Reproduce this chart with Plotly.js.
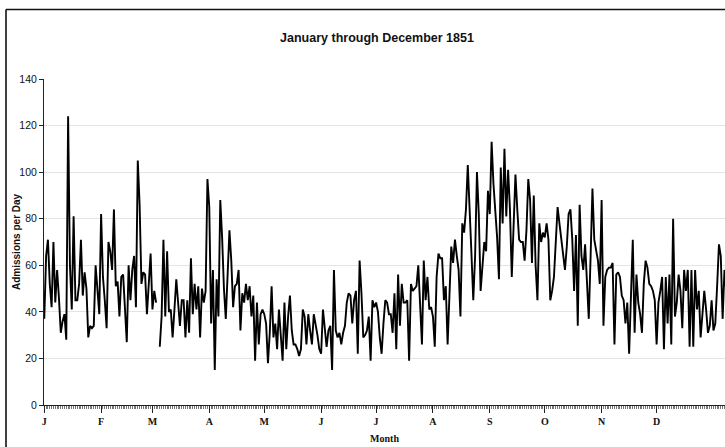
<!DOCTYPE html>
<html>
<head>
<meta charset="utf-8">
<script src="https://cdn.plot.ly/plotly-3.0.1.min.js"></script>
<style>
  html, body { margin: 0; padding: 0; background: #ffffff; }
  #chart { width: 725px; height: 447px; }
</style>
</head>
<body>
<div id="chart"></div>
<script>
// Daily admissions (null = missing day)
const jan = [37,64,71,52,42,70,44,58,46,31,36,39,28,124,60,41,81,45,45,52,71,47,57,50,29,34,33,34,60,50,39];
const feb = [82,55,45,33,70,66,58,84,51,53,38,55,56,40,27,60,45,58,64,42,105,86,52,57,56,39,55,65];
const mar = [41,49,44,null,25,38,71,38,66,40,41,29,41,54,44,34,45,45,29,45,31,63,39,52,41,51,29,50,44,49,97];
const apr = [85,35,58,15,54,38,88,72,50,37,60,75,62,42,51,52,58,32,48,44,52,45,51,38,47,19,44,26,39,41];
const may = [39,35,18,31,51,29,35,24,41,31,19,44,24,38,47,32,26,26,24,21,24,41,38,26,39,32,26,39,35,30,24];
const jun = [22,41,32,25,32,34,15,58,32,29,31,26,31,34,44,48,47,35,45,49,22,62,48,29,30,32,38,19,45,42];
const jul = [44,40,29,22,35,45,44,39,39,31,48,24,56,34,52,44,44,45,19,52,49,50,51,60,45,26,62,45,55,41,42];
const aug = [38,25,55,65,63,63,45,51,26,47,68,61,71,64,58,38,78,74,84,103,87,65,45,64,100,82,49,58,70,66,92];
const sep = [82,113,95,85,72,54,102,78,110,81,101,84,55,77,99,84,71,70,70,62,75,97,88,61,90,60,45,78,70,74];
const oct = [72,78,71,45,49,55,71,85,78,71,64,58,68,82,84,71,49,73,34,86,64,58,69,55,37,64,93,71,67,62,52];
const nov = [88,34,55,58,59,59,61,26,56,57,55,47,45,35,44,22,47,71,31,56,44,39,31,52,62,59,52,51,49,45];
const dec = [26,44,49,55,24,55,35,56,26,80,38,44,56,49,33,58,49,58,25,58,25,58,41,49,29,38,49,41,31,34,45,32,35,51,69,64,37,58,49];

const monthLabels = ['J','F','M','A','M','J','J','A','S','O','N','D'];
const monthStartDays = [1,32,60,91,121,152,182,213,244,274,305,335];

const admissions = [].concat(jan, feb, mar, apr, may, jun, jul, aug, sep, oct, nov, dec);
const days = admissions.map((v, i) => i + 1);

const trace = {
  x: days,
  y: admissions,
  type: 'scatter',
  mode: 'lines',
  line: { color: '#000000', width: 1.9 },
  connectgaps: false,
  hoverinfo: 'skip'
};

const layout = {
  width: 725,
  height: 447,
  margin: { l: 44, r: 0, t: 79, b: 42 },
  paper_bgcolor: '#ffffff',
  plot_bgcolor: '#ffffff',
  showlegend: false,
  title: {
    text: 'January through December 1851',
    font: { family: 'Liberation Sans, Arial, sans-serif', size: 12.5, color: '#111', weight: 'bold' },
    x: 0.52, xref: 'container', xanchor: 'center',
    y: 0.915, yref: 'container', yanchor: 'middle'
  },
  xaxis: {
    range: [0.85, 372.3],
    tickmode: 'array',
    tickvals: monthStartDays,
    ticktext: monthLabels,
    ticks: 'outside',
    ticklen: 7,
    tickwidth: 1,
    tickcolor: '#222',
    minor: { dtick: 1, tick0: 1, ticks: 'outside', ticklen: 3, tickwidth: 0.8, tickcolor: '#555', showgrid: false },
    showgrid: false,
    zeroline: false,
    showline: true,
    linecolor: '#222',
    linewidth: 1,
    tickfont: { family: 'Liberation Serif, Times New Roman, serif', size: 10, color: '#111', weight: 'bold' },
    title: {
      text: 'Month',
      font: { family: 'Liberation Serif, Times New Roman, serif', size: 10, color: '#111', weight: 'bold' },
      standoff: 8
    }
  },
  yaxis: {
    range: [0, 140],
    dtick: 20,
    tick0: 0,
    ticks: 'outside',
    ticklen: 4,
    tickwidth: 1,
    tickcolor: '#222',
    showgrid: true,
    gridcolor: '#e4e4e4',
    gridwidth: 1,
    zeroline: false,
    showline: true,
    linecolor: '#222',
    linewidth: 1,
    tickfont: { family: 'Liberation Sans, Arial, sans-serif', size: 10.5, color: '#111' }
  },
  annotations: [
    { text: 'Admissions per Day', xref: 'paper', yref: 'paper',
      x: (16 - 44) / 681, y: 0.5, xanchor: 'center', yanchor: 'middle',
      textangle: -90, showarrow: false,
      font: { family: 'Liberation Sans, Arial, sans-serif', size: 10, color: '#111', weight: 'bold' } }
  ],
  shapes: [
    { type: 'line', xref: 'paper', yref: 'paper', x0: -0.0558, x1: 1.01, y0: 1.2132, y1: 1.2132,
      line: { color: '#111', width: 1.6 } },
    { type: 'line', xref: 'paper', yref: 'paper', x0: -0.0558, x1: -0.0558, y0: 1.2132, y1: -0.15,
      line: { color: '#111', width: 1.6 } }
  ]
};

Plotly.newPlot('chart', [trace], layout, { displayModeBar: false, staticPlot: true });
</script>
</body>
</html>
